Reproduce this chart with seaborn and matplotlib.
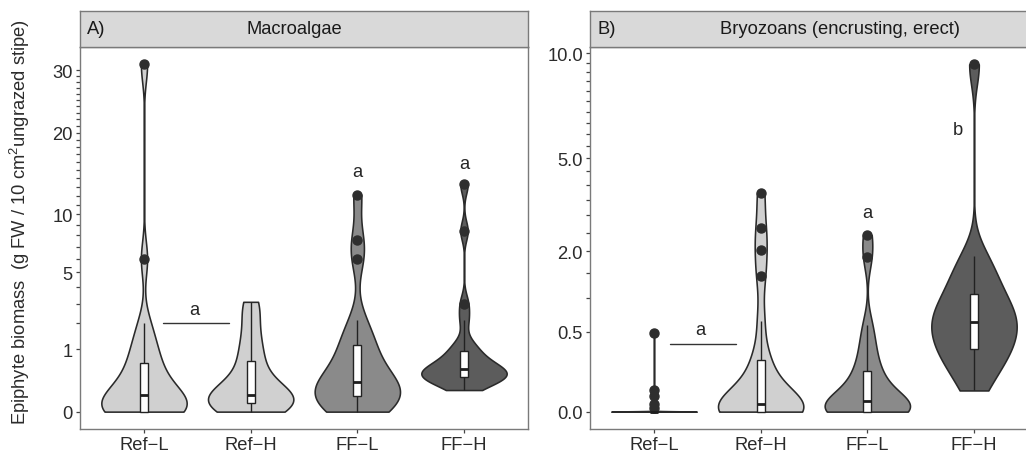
import numpy as np
import pandas as pd
import matplotlib
matplotlib.use("Agg")
import matplotlib.pyplot as plt
import seaborn as sns

# ---------------- data (g FW / 10 cm2 ungrazed stipe) ----------------
groups = ["Ref\u2212L", "Ref\u2212H", "FF\u2212L", "FF\u2212H"]

macro_ref_l = [0, 0, 0, 0, 0, 0, 0, 0.003, 0.01, 0.02, 0.04, 0.06, 0.08, 0.12,
               0.2, 0.3, 0.42, 0.56, 0.81, 1.0, 1.44, 2.0, 6.0, 31.0]
macro_ref_h = [0, 0, 0.0025, 0.01, 0.015, 0.02, 0.03, 0.05, 0.06, 0.07, 0.08,
               0.12, 0.2, 0.36, 0.6, 0.8, 1.2, 1.7, 2.6, 3.1]
macro_ff_l = [0, 0, 0.003, 0.01, 0.02, 0.05, 0.09, 0.1, 0.13, 0.18, 0.21, 0.25,
              0.36, 0.49, 0.72, 1.0, 1.17, 1.56, 2.16, 6.0, 7.6, 12.1]
macro_ff_h = [0.12, 0.2, 0.25, 0.27, 0.29, 0.3, 0.34, 0.36, 0.38, 0.42, 0.45,
              0.48, 0.52, 0.61, 0.72, 0.9, 0.98, 1.21, 2.16, 3.0, 8.4, 13.3]

bryo_ref_l = [0] * 17 + [0.001, 0.005, 0.018, 0.038, 0.48]
bryo_ref_h = [0] * 7 + [0.0001, 0.0009, 0.0025, 0.0036, 0.0064, 0.017, 0.04,
                        0.09, 0.18, 0.22, 0.64, 1.43, 2.03, 2.62, 3.72]
bryo_ff_l = [0] * 7 + [0.0004, 0.0016, 0.0049, 0.0081, 0.011, 0.0225, 0.04,
                       0.073, 0.109, 0.137, 0.25, 0.36, 0.58, 1.86, 2.43]
bryo_ff_h = [0.035, 0.09, 0.16, 0.23, 0.28, 0.31, 0.38, 0.46, 0.55, 0.61, 0.64,
             0.72, 0.81, 0.9, 1.04, 1.21, 1.39, 1.64, 1.9, 9.4]

macro_major = [0, 1, 5, 10, 20, 30]
macro_labels = ["0", "1", "5", "10", "20", "30"]
macro_minor = list(range(0, 31))
bryo_major = [0, 0.5, 2, 5, 10]
bryo_labels = ["0.0", "0.5", "2.0", "5.0", "10.0"]
bryo_minor = [i * 0.5 for i in range(0, 21)]

fills = ["#d0d0d0", "#d0d0d0", "#8a8a8a", "#5c5c5c"]

# ---------------- style ----------------
sns.set_theme(style="white")
plt.rcParams["font.family"] = ["Liberation Sans", "DejaVu Sans"]
plt.rcParams["mathtext.fontset"] = "custom"
plt.rcParams["mathtext.rm"] = "Liberation Sans"
plt.rcParams["mathtext.it"] = "Liberation Sans:italic"
FS = 13.2
TXT = "#2b2b2b"
EDGE = "#7a7a7a"


def nrd0(kde):
    # R's bw.nrd0 (ggplot default bandwidth) expressed as a scipy factor
    x = np.asarray(kde.dataset).ravel()
    n = x.size
    sd = x.std(ddof=1)
    q75, q25 = np.percentile(x, [75, 25])
    lo = min(sd, (q75 - q25) / 1.34)
    if lo <= 0:
        lo = sd
    return 0.9 * lo * n ** -0.2 / sd


W, H = 1026, 460
fig = plt.figure(figsize=(W / 100, H / 100), dpi=100)

panel_w = 448
top, bottom = 48, 430
strip_top = 12


def make_panel(x0, data, bw_adj, major, labels, minor, tag, title, title_x):
    ax = fig.add_axes([x0 / W, 1 - bottom / H, panel_w / W, (bottom - top) / H])
    sax = fig.add_axes([x0 / W, 1 - top / H, panel_w / W, (top - strip_top) / H])
    rows = []
    for g, vals in zip(groups, data):
        for v in vals:
            rows.append((g, v))
    df = pd.DataFrame(rows, columns=["group", "value"])
    df["s"] = np.sqrt(df["value"])
    for g, col, adj in zip(groups, fills, bw_adj):
        sns.violinplot(data=df[df["group"] == g], x="group", y="s", order=groups,
                       color=col, saturation=1,
                       density_norm="width", cut=0, inner=None, width=0.8,
                       bw_method=nrd0, bw_adjust=adj, gridsize=512,
                       linewidth=1.15, linecolor="#2a2a2a", ax=ax)
    sns.boxplot(data=df, x="group", y="s", order=groups, color="white",
                saturation=1, width=0.075, linecolor="#222222", linewidth=1.0,
                showcaps=False, fliersize=6.5,
                medianprops=dict(linewidth=2.0, color="#1e1e1e"),
                flierprops=dict(marker="o", markerfacecolor="#2e2e2e",
                                markeredgecolor="#2e2e2e"), ax=ax)
    smin, smax = df["s"].min(), df["s"].max()
    pad = 0.05 * (smax - smin)
    ax.set_ylim(smin - pad, smax + pad)
    ax.set_xlim(-0.6, 3.6)
    ax.set_yticks(np.sqrt(major))
    ax.set_yticklabels(labels)
    ax.set_yticks(np.sqrt(minor), minor=True)
    ax.tick_params(axis="both", which="both", direction="out", length=3.2,
                   width=0.9, color="#444444", labelsize=FS, labelcolor=TXT,
                   pad=2)
    ax.tick_params(axis="y", which="both", left=True)
    ax.tick_params(axis="x", which="both", bottom=True)
    ax.set_xlabel("")
    ax.set_ylabel("")
    for sp in ax.spines.values():
        sp.set_color(EDGE)
        sp.set_linewidth(1.0)
    sax.set_facecolor("#d9d9d9")
    sax.set_xticks([])
    sax.set_yticks([])
    for sp in sax.spines.values():
        sp.set_color(EDGE)
        sp.set_linewidth(1.0)
    sax.text(0.016, 0.5, tag, transform=sax.transAxes, ha="left", va="center",
             fontsize=FS, color="#1a1a1a")
    sax.text(title_x, 0.5, title, transform=sax.transAxes, ha="center",
             va="center", fontsize=FS, color="#1a1a1a")
    return ax


axA = make_panel(80, [macro_ref_l, macro_ref_h, macro_ff_l, macro_ff_h],
                 [1, 1, 1, 1],
                 macro_major, macro_labels, macro_minor, "A)", "Macroalgae", 0.479)
axB = make_panel(590, [bryo_ref_l, bryo_ref_h, bryo_ff_l, bryo_ff_h],
                 [0.04, 1, 1, 1],
                 bryo_major, bryo_labels, bryo_minor, "B)",
                 "Bryozoans (encrusting, erect)", 0.557)

# significance letters
lc = "#262626"
axA.plot([0.18, 0.80], [1.42, 1.42], color="#333333", lw=1.0)
axA.text(0.47, 1.50, "a", ha="center", va="bottom", fontsize=FS, color=lc)
axA.text(2.0, 3.72, "a", ha="center", va="bottom", fontsize=FS, color=lc)
axA.text(3.0, 3.85, "a", ha="center", va="bottom", fontsize=FS, color=lc)

axB.plot([0.15, 0.77], [0.60, 0.60], color="#333333", lw=1.0)
axB.text(0.43, 0.65, "a", ha="center", va="bottom", fontsize=FS, color=lc)
axB.text(2.0, 1.68, "a", ha="center", va="bottom", fontsize=FS, color=lc)
axB.text(2.85, 2.42, "b", ha="center", va="bottom", fontsize=FS, color=lc)

fig.text(20 / W, 1 - 222 / H,
         r"Epiphyte biomass  (g FW / 10 cm$^{2}$ungrazed stipe)",
         rotation=90, ha="center", va="center", fontsize=FS, color=TXT)

fig.savefig("out.png", dpi=100)
